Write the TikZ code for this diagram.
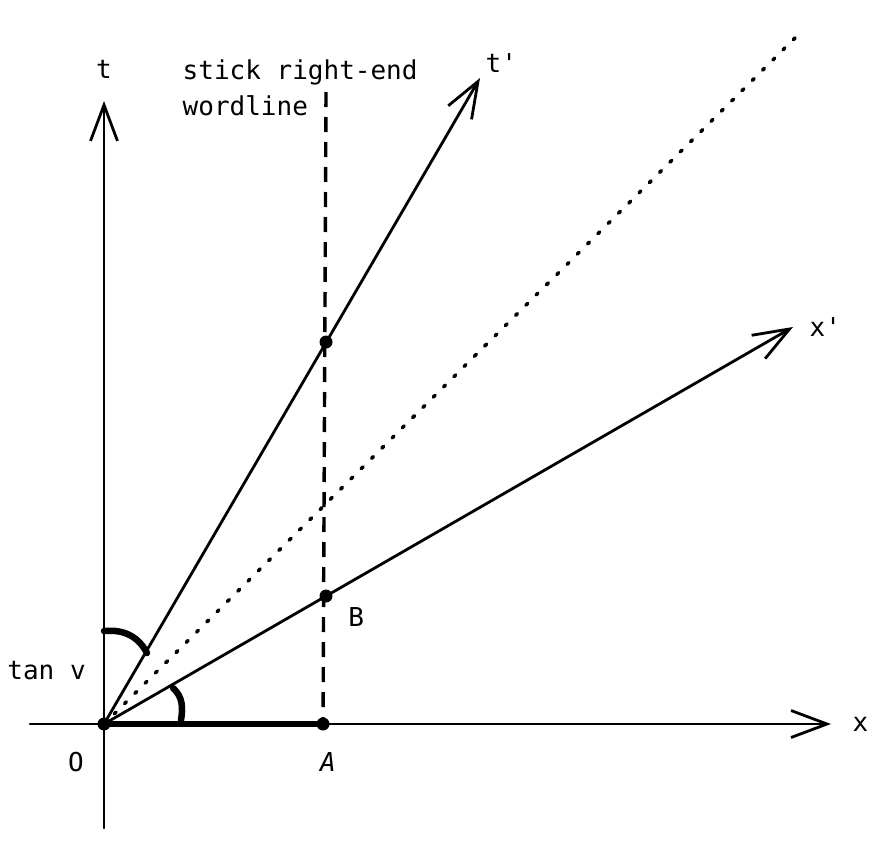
\documentclass[tikz,border=0pt]{standalone}
\usepackage{fontspec}
\setmonofont{DejaVu Sans Mono}
\usetikzlibrary{positioning}
\usetikzlibrary{arrows.meta}

\begin{document}
\begin{tikzpicture}[x=1pt,y=-1pt,>={Straight Barb[length=36pt,width=27pt]},
	line width=2.8pt,line cap=round,line join=round,
	font=\ttfamily\fontsize{26}{36}\selectfont,
	dot/.style={circle,fill,inner sep=0pt,minimum size=13pt},
	mark arc/.style={line width=6.5pt},
	world line/.style={line width=3.4pt,line cap=butt,dash pattern=on 15pt off 10pt},
	light line/.style={line width=3.6pt,dash pattern=on 2.5pt off 12pt}]
	\useasboundingbox (0,0) rectangle (890,843);
	
	% points
	\node[dot] (o) at (104,724) {};
	\node[dot] (a) at (323,724) {};
	\node[dot] (b) at (326,596) {};
	\node[dot] (c) at (326,342) {};
	
	% axis ends
	\coordinate (xl) at (30,724);
	\coordinate (xr) at (831,724);
	\coordinate (tb) at (104,828);
	\coordinate (tt) at (104,101);
	\coordinate (tp) at (480,78);
	\coordinate (xp) at (793,327);
	\coordinate (lc) at (795,38);
	\coordinate (wt) at (326,92);
	
	% axes
	\draw[->] (xl) -- (xr);
	\draw[->] (tb) -- (tt);
	\draw[->] (o.center) -- (tp);
	\draw[->] (o.center) -- (xp);
	\draw[light line] (o.center) -- (lc);
	\draw[world line] (wt) -- (a.center);
	\draw[line width=5.5pt] (o.center) -- (a.center);
	
	% angles
	\draw[mark arc] (104,631) .. controls (126,629) and (139,638) .. (147,653);
	\draw[mark arc] (173,688) .. controls (183,697) and (183,708) .. (181,720);
	
	% labels
	\node (tlab) [above=18pt of tt] {t};
	\node (tplab) [above right=1pt and 1pt of tp] {t'};
	\node (xplab) [right=12pt of xp] {x'};
	\node (xlab) [right=17pt of xr] {x};
	\node (olab) [below left=18pt and 10pt of o] {O};
	\node (alab) [below=16pt of a,xshift=5pt] {\itshape A};
	\node (blab) [below right=1pt and 12pt of b] {B};
	\node (tanlab) [above left=34pt and 8pt of o] {tan v};
	\node (stick) [anchor=north west,align=left] at (178,55) {stick right-end\\wordline};
\end{tikzpicture}
\end{document}
